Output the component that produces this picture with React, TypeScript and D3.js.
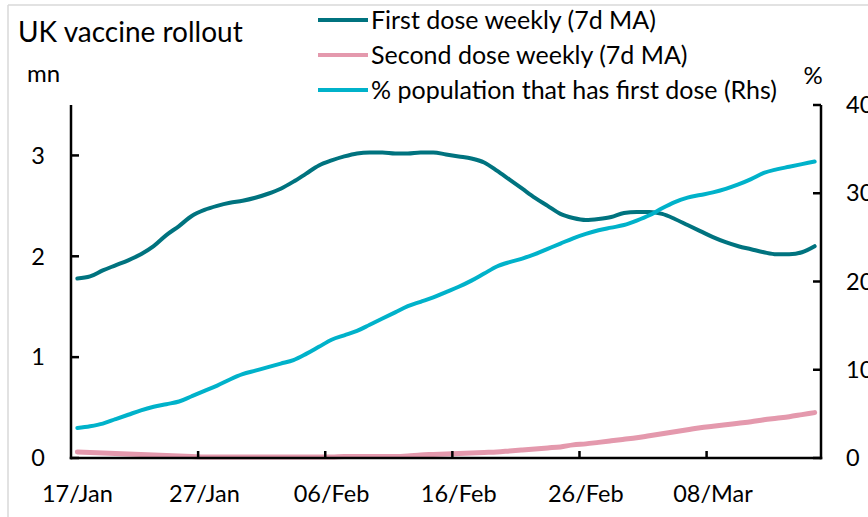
import * as d3 from "d3";

const width = 868;
const height = 517;
const margin = { top: 105, right: 47, bottom: 59, left: 71 };
const font = "Lato, 'Open Sans', sans-serif";

// 7 day moving averages, millions of doses, 17/Jan .. 16/Mar
const firstDose = [
  1.78, 1.8, 1.86, 1.91, 1.96, 2.02, 2.1, 2.21, 2.3, 2.4, 2.46, 2.5, 2.53, 2.55, 2.58, 2.62,
  2.67, 2.74, 2.82, 2.9, 2.95, 2.99, 3.02, 3.03, 3.03, 3.02, 3.02, 3.03, 3.03, 3.01, 2.99,
  2.97, 2.93, 2.85, 2.76, 2.67, 2.58, 2.5, 2.42, 2.38, 2.36, 2.37, 2.39, 2.43, 2.44, 2.44,
  2.42, 2.37, 2.31, 2.25, 2.19, 2.14, 2.1, 2.07, 2.04, 2.02, 2.02, 2.04, 2.1,
];
const secondDose = [
  0.06, 0.055, 0.05, 0.045, 0.04, 0.035, 0.03, 0.025, 0.02, 0.015, 0.01, 0.01, 0.01, 0.01,
  0.01, 0.01, 0.01, 0.01, 0.01, 0.01, 0.01, 0.015, 0.015, 0.015, 0.015, 0.015, 0.02, 0.03,
  0.035, 0.04, 0.045, 0.05, 0.055, 0.06, 0.07, 0.08, 0.09, 0.1, 0.11, 0.13, 0.14, 0.155,
  0.17, 0.185, 0.2, 0.22, 0.24, 0.26, 0.28, 0.3, 0.315, 0.33, 0.345, 0.36, 0.38, 0.395,
  0.41, 0.43, 0.45,
];
// % of population with a first dose (right axis)
const popShare = [
  3.4, 3.6, 3.9, 4.4, 4.9, 5.4, 5.8, 6.1, 6.4, 7.0, 7.6, 8.2, 8.9, 9.5, 9.9, 10.3, 10.7,
  11.1, 11.8, 12.6, 13.4, 13.9, 14.4, 15.1, 15.8, 16.5, 17.2, 17.7, 18.2, 18.8, 19.4, 20.1,
  20.9, 21.7, 22.2, 22.6, 23.1, 23.7, 24.3, 24.9, 25.4, 25.8, 26.1, 26.4, 26.9, 27.5, 28.3,
  29.0, 29.5, 29.8, 30.1, 30.5, 31.0, 31.6, 32.3, 32.7, 33.0, 33.3, 33.6,
];

const startDate = new Date(2021, 0, 17);
const dates = firstDose.map((_, i) => d3.timeDay.offset(startDate, i));
const labelEvery = 10;
const leftTicks = [0, 1, 2, 3];
const rightTicks = [0, 10, 20, 30, 40];

const series = [
  { name: "First dose weekly (7d MA)", values: firstDose, axis: "left", color: "#00737F", w: 4 },
  { name: "Second dose weekly (7d MA)", values: secondDose, axis: "left", color: "#E499AD", w: 5 },
  { name: "% population that has first dose (Rhs)", values: popShare, axis: "right", color: "#00B2CA", w: 4 },
];
const legendOrder = [0, 1, 2];

export default function App() {
  const x0 = margin.left;
  const x1 = width - margin.right;
  const yBottom = height - margin.bottom;

  const xBand = d3
    .scaleBand<number>()
    .domain(d3.range(dates.length))
    .range([x0, x1]);
  const xc = (i: number) => (xBand(i) ?? 0) + xBand.bandwidth() / 2;

  const yLeft = d3.scaleLinear().domain([0, 3.5]).range([yBottom, margin.top]);
  const yRight = d3.scaleLinear().domain([0, 40]).range([yBottom, margin.top]);

  const fmt = d3.timeFormat("%d/%b");
  const labelIdx = d3.range(0, dates.length, labelEvery);

  return (
    <div style={{ position: "absolute", left: 0, top: 0 }}>
      <svg width={width} height={height} style={{ display: "block", background: "#fff" }}>
        {/* frame of the original figure */}
        <line x1={8} x2={width} y1={5} y2={5} stroke="#D9D9D9" strokeWidth={1.5} />
        <line x1={8} x2={8} y1={5} y2={height} stroke="#D9D9D9" strokeWidth={1.5} />

        <text x={18} y={42} fontFamily={font} fontSize={28} fill="#000">
          UK vaccine rollout
        </text>
        <text x={27} y={82} fontFamily={font} fontSize={24} fill="#000">
          mn
        </text>
        <text x={813} y={84} fontFamily={font} fontSize={24} textAnchor="middle" fill="#000">
          %
        </text>

        {/* legend */}
        {legendOrder.map((k, j) => {
          const s = series[k];
          const ly = 20 + j * 35;
          return (
            <g key={s.name}>
              <line x1={318} x2={368} y1={ly} y2={ly} stroke={s.color} strokeWidth={4} />
              <text x={371} y={ly} dy="0.35em" fontFamily={font} fontSize={25} fill="#000">
                {s.name}
              </text>
            </g>
          );
        })}

        {/* lines */}
        {series.map((s) => {
          const y = s.axis === "left" ? yLeft : yRight;
          const path = d3
            .line<number>()
            .x((_, i) => xc(i))
            .y((d) => y(d))
            .curve(d3.curveMonotoneX)(s.values);
          return (
            <path
              key={s.name}
              d={path ?? ""}
              fill="none"
              stroke={s.color}
              strokeWidth={s.w}
              strokeLinejoin="round"
              strokeLinecap="round"
            />
          );
        })}

        {/* axes */}
        <g stroke="#000" strokeWidth={2.5} fill="none">
          <line x1={x0} x2={x0} y1={margin.top} y2={yBottom + 1.25} />
          <line x1={x1} x2={x1} y1={margin.top} y2={yBottom + 1.25} />
          <line x1={x0 - 1.25} x2={x1 + 1.25} y1={yBottom} y2={yBottom} />
          {leftTicks.map((t) => (
            <line key={"l" + t} x1={x0} x2={x0 + 8} y1={yLeft(t)} y2={yLeft(t)} />
          ))}
          {rightTicks.map((t) => (
            <line key={"r" + t} x1={x1 - 8} x2={x1} y1={yRight(t)} y2={yRight(t)} />
          ))}
          {labelIdx.slice(1).map((i) => (
            <line key={"x" + i} x1={xBand(i)} x2={xBand(i)} y1={yBottom} y2={yBottom - 7} />
          ))}
        </g>

        <g fontFamily={font} fontSize={23.5} fill="#000">
          {leftTicks.map((t) => (
            <text key={"lt" + t} x={45} y={yLeft(t)} dy="0.35em" textAnchor="end">
              {t}
            </text>
          ))}
          {rightTicks.map((t) => (
            <text key={"rt" + t} x={846} y={yRight(t)} dy="0.35em">
              {t}
            </text>
          ))}
          {labelIdx.map((i) => (
            <text key={"xt" + i} x={xc(i)} y={502} textAnchor="middle">
              {fmt(dates[i])}
            </text>
          ))}
        </g>
      </svg>
    </div>
  );
}
